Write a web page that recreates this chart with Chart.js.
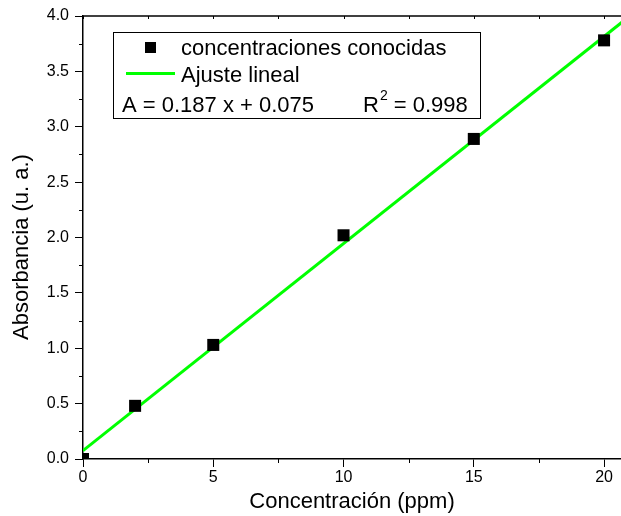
<!DOCTYPE html>
<html>
<head>
<meta charset="utf-8">
<script src="https://cdn.jsdelivr.net/npm/chart.js@4.4.1/dist/chart.umd.min.js"></script>
<style>
  html, body { margin: 0; padding: 0; background: #fff; }
  canvas { display: block; }
</style>
</head>
<body>
<canvas id="c" width="621" height="516"></canvas>
<script>
// Calibration data: known concentrations (ppm) and measured absorbance
const concentrations = [0, 2, 5, 10, 15, 20];
const absorbance = [0.0, 0.48, 1.03, 2.02, 2.89, 3.78];

// Linear fit parameters
const fitSlope = 0.187;
const fitIntercept = 0.075;
const fitR2 = 0.998;
const fitRange = [0, 22];

// Axis tick labels
const xTickValues = [0, 5, 10, 15, 20];
const yTickValues = [0.0, 0.5, 1.0, 1.5, 2.0, 2.5, 3.0, 3.5, 4.0];
const xMinorStep = 2.5;
const yMinorStep = 0.25;

// Legend texts
const seriesLabels = ['concentraciones conocidas', 'Ajuste lineal'];
const xTitle = 'Concentración (ppm)';
const yTitle = 'Absorbancia (u. a.)';

const FONT = 'Liberation Sans, Arial, Helvetica, sans-serif';

const scatterPts = concentrations.map((x, i) => ({ x, y: absorbance[i] }));
const fitPts = fitRange.map(x => ({ x, y: fitSlope * x + fitIntercept }));

// Frame, minor ticks and top border ticks
const framePlugin = {
  id: 'frame',
  afterDraw(chart) {
    const { ctx, chartArea: a, scales: { x, y } } = chart;
    ctx.save();
    ctx.strokeStyle = '#000';
    ctx.lineWidth = 1.5;
    ctx.beginPath();
    ctx.moveTo(a.left, a.top);
    ctx.lineTo(a.right, a.top);
    ctx.stroke();
    ctx.lineWidth = 1;
    for (let v = 0; v <= x.max; v += xMinorStep) {
      const px = Math.round(x.getPixelForValue(v)) + 0.5;
      const major = xTickValues.includes(v);
      ctx.beginPath();
      if (!major) {
        ctx.moveTo(px, a.bottom);
        ctx.lineTo(px, a.bottom + 4);
      }
      ctx.moveTo(px, a.top);
      ctx.lineTo(px, a.top + 3);
      ctx.stroke();
    }
    for (let v = 0; v <= y.max + 1e-9; v += yMinorStep) {
      const major = Math.abs(v * 2 - Math.round(v * 2)) < 1e-9;
      if (major) continue;
      const py = Math.round(y.getPixelForValue(v)) + 0.5;
      ctx.beginPath();
      ctx.moveTo(a.left, py);
      ctx.lineTo(a.left - 4, py);
      ctx.stroke();
    }
    // vertical axis title
    ctx.save();
    ctx.translate(22, 247);
    ctx.rotate(-Math.PI / 2);
    ctx.font = '22px ' + FONT;
    ctx.fillStyle = '#000';
    ctx.textAlign = 'center';
    ctx.textBaseline = 'middle';
    ctx.fillText(yTitle, 0, 0);
    ctx.restore();
    ctx.restore();
  }
};

// Legend box with fit equation
const legendPlugin = {
  id: 'fitLegend',
  afterDraw(chart) {
    const { ctx } = chart;
    const bx = 113, by = 32, bw = 367, bh = 86;
    ctx.save();
    ctx.fillStyle = '#fff';
    ctx.fillRect(bx, by, bw, bh);
    ctx.strokeStyle = '#000';
    ctx.lineWidth = 1;
    ctx.strokeRect(bx + 0.5, by + 0.5, bw, bh);

    ctx.font = '22px ' + FONT;
    ctx.textBaseline = 'alphabetic';
    ctx.fillStyle = '#000';
    // row 1: marker
    ctx.fillRect(145, 42, 11, 11);
    ctx.fillText(seriesLabels[0], 181, 55);
    // row 2: line
    ctx.strokeStyle = '#00ff00';
    ctx.lineWidth = 3;
    ctx.beginPath();
    ctx.moveTo(126, 73.5);
    ctx.lineTo(175, 73.5);
    ctx.stroke();
    ctx.fillText(seriesLabels[1], 181, 82);
    // row 3: equation
    const eq = 'A = ' + fitSlope.toFixed(3) + ' x + ' + fitIntercept.toFixed(3);
    ctx.fillText(eq, 122, 112);
    let rx = 363;
    ctx.fillText('R', rx, 112);
    rx += ctx.measureText('R').width;
    ctx.font = '14px ' + FONT;
    ctx.fillText('2', rx + 1, 100);
    rx += ctx.measureText('2').width + 1;
    ctx.font = '22px ' + FONT;
    ctx.fillText(' = ' + fitR2.toFixed(3), rx, 112);
    ctx.restore();
  }
};

new Chart(document.getElementById('c'), {
  type: 'scatter',
  data: {
    datasets: [
      {
        label: seriesLabels[1],
        type: 'line',
        data: fitPts,
        borderColor: '#00ff00',
        borderWidth: 3,
        pointRadius: 0,
        fill: false,
        clip: 0,
        order: 2
      },
      {
        label: seriesLabels[0],
        data: scatterPts,
        pointStyle: 'rect',
        pointRadius: 8.5,
        pointHoverRadius: 8.5,
        backgroundColor: '#000',
        borderColor: '#000',
        borderWidth: 0,
        clip: 0,
        order: 1
      }
    ]
  },
  options: {
    responsive: false,
    animation: false,
    devicePixelRatio: 1,
    layout: { autoPadding: false, padding: { top: 16, right: 0, left: 0, bottom: 0 } },
    plugins: {
      legend: { display: false },
      tooltip: { enabled: false }
    },
    scales: {
      x: {
        type: 'linear',
        min: 0,
        max: 20.65,
        afterFit(s) { s.height = 57; s.paddingRight = 0; },
        afterBuildTicks(s) { s.ticks = xTickValues.map(v => ({ value: v })); },
        border: { display: true, color: '#000', width: 1.5 },
        grid: { drawOnChartArea: false, drawTicks: true, tickLength: 8, color: '#000', tickColor: '#000', lineWidth: 1 },
        ticks: { color: '#000', font: { family: FONT, size: 16 }, padding: 1, maxRotation: 0 },
        title: { display: true, text: xTitle, color: '#000', font: { family: FONT, size: 22 }, padding: { top: 0, bottom: 1 } }
      },
      y: {
        type: 'linear',
        min: 0,
        max: 4.0,
        afterFit(s) { s.width = 83; },
        afterBuildTicks(s) { s.ticks = yTickValues.map(v => ({ value: v })); },
        border: { display: true, color: '#000', width: 1.5 },
        grid: { drawOnChartArea: false, drawTicks: true, tickLength: 8, color: '#000', tickColor: '#000', lineWidth: 1 },
        ticks: { color: '#000', font: { family: FONT, size: 16 }, padding: 6, callback: v => v.toFixed(1) },
        title: { display: false }
      }
    }
  },
  plugins: [framePlugin, legendPlugin]
});
</script>
</body>
</html>
